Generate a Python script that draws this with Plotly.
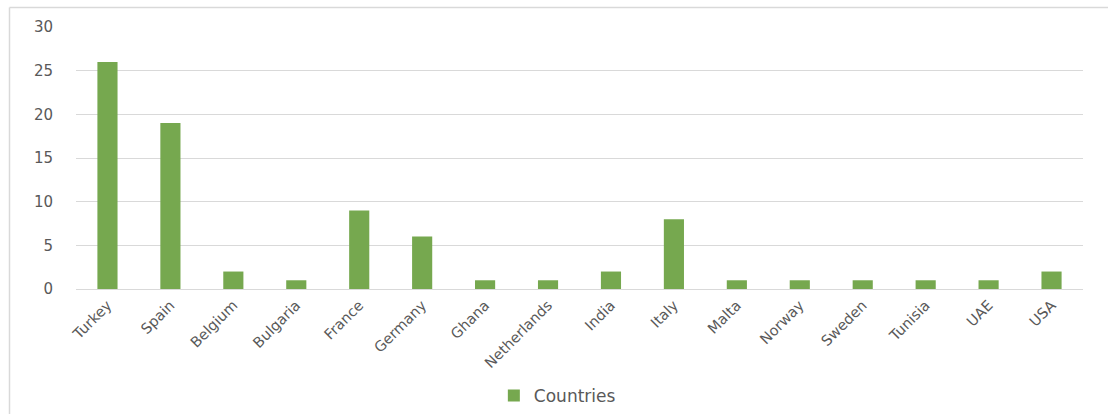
import plotly.graph_objects as go

countries = ["Turkey", "Spain", "Belgium", "Bulgaria", "France", "Germany", "Ghana",
             "Netherlands", "India", "Italy", "Malta", "Norway", "Sweden", "Tunisia",
             "UAE", "USA"]
counts = [26, 19, 2, 1, 9, 6, 1, 1, 2, 8, 1, 1, 1, 1, 1, 2]
y_ticks = [0, 5, 10, 15, 20, 25, 30]

W, H = 1108, 414
L, R, T, B = 76, 25, 27, 125
pw, ph = W - L - R, H - T - B

def px_to_paper_x(px):
    return (px - L) / pw

def px_to_paper_y(py):
    return (H - B - py) / ph

font_family = "DejaVu Sans"
text_color = "#595959"

fig = go.Figure(
    go.Bar(
        x=countries,
        y=counts,
        name="Countries",
        marker=dict(color="#76A84F", line=dict(width=0)),
        showlegend=True,
    )
)

fig.update_layout(
    width=W,
    height=H,
    margin=dict(l=L, r=R, t=T, b=B, autoexpand=False),
    paper_bgcolor="white",
    plot_bgcolor="white",
    bargap=0.68,
    font=dict(family=font_family, size=14, color=text_color),
    xaxis=dict(
        tickangle=-45,
        showgrid=False,
        showline=False,
        zeroline=False,
        tickfont=dict(size=14.5, color=text_color),
        ticks="",
        ticklabelstandoff=4,
    ),
    yaxis=dict(
        range=[0, 30],
        tickvals=y_ticks,
        showgrid=True,
        gridcolor="#D9D9D9",
        gridwidth=1,
        zeroline=True,
        zerolinecolor="#D9D9D9",
        zerolinewidth=1,
        showline=False,
        ticks="",
        ticklabelstandoff=22,
        tickfont=dict(size=15, color=text_color),
    ),
    legend=dict(
        orientation="h",
        x=0.478,
        xanchor="center",
        y=px_to_paper_y(396),
        yanchor="middle",
        font=dict(size=17, color=text_color),
        bgcolor="rgba(0,0,0,0)",
    ),
    shapes=[
        # chart frame: top and left edges
        dict(type="line", xref="paper", yref="paper",
             x0=px_to_paper_x(9.5), x1=px_to_paper_x(1108), y0=px_to_paper_y(7.5), y1=px_to_paper_y(7.5),
             line=dict(color="#D9D9D9", width=1.5)),
        dict(type="line", xref="paper", yref="paper",
             x0=px_to_paper_x(9.5), x1=px_to_paper_x(9.5), y0=px_to_paper_y(7.5), y1=px_to_paper_y(414),
             line=dict(color="#D9D9D9", width=1.5)),
    ],
)

fig.write_html("out.html")
